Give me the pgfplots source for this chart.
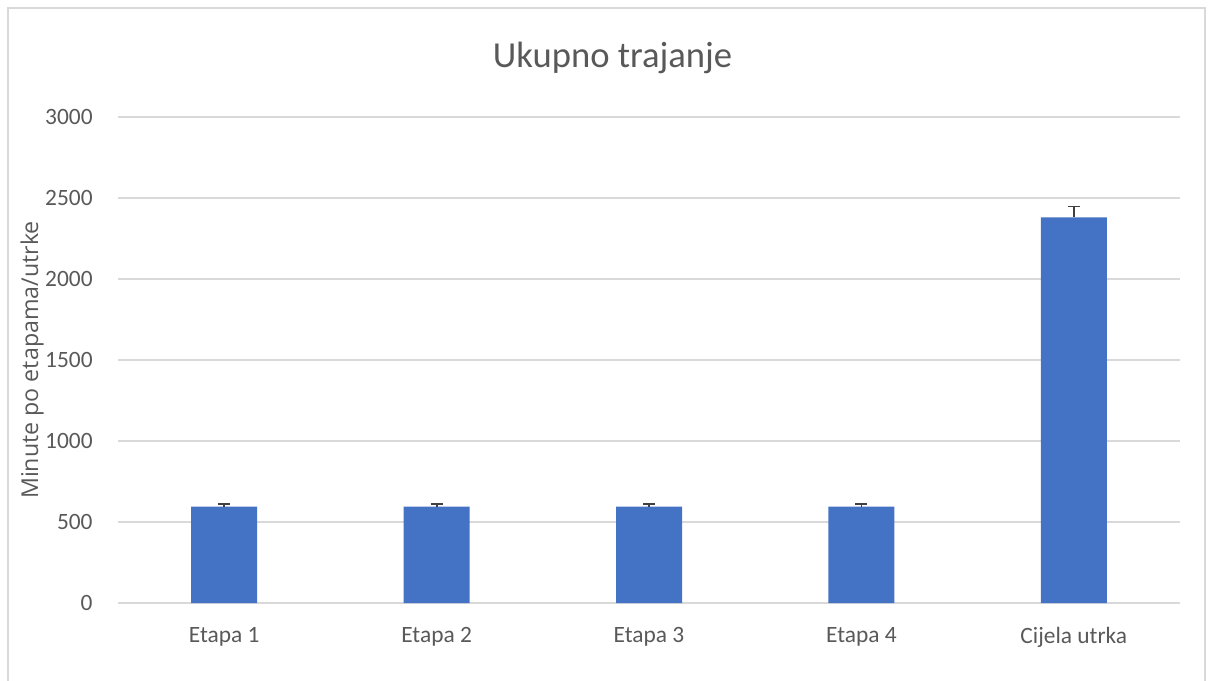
\documentclass[border=0pt]{standalone}
\usepackage{pgfplots}
\pgfplotsset{compat=1.18}
\usepackage{fontspec}
\setmainfont{Carlito}
\newfontfamily\labfont{Open Sans}
\definecolor{barblue}{HTML}{4472C4}
\definecolor{gridgray}{HTML}{D9D9D9}
\definecolor{txtgray}{HTML}{595959}
\definecolor{errgray}{HTML}{404040}
\begin{document}
\begin{tikzpicture}[x=1pt,y=1pt]
\path[use as bounding box] (0,0) rectangle (606.5,340);
\draw[gridgray, line width=0.7pt] (4,-5) -- (4,336) -- (602.5,336) -- (602.5,-5);
\begin{axis}[
  at={(59pt,38.5pt)}, anchor=south west,
  scale only axis, width=531pt, height=243pt,
  ymin=0, ymax=3000, ytick={0,500,...,3000},
  xmin=-0.5, xmax=4.5, xtick={0,...,4},
  xticklabels={Etapa 1,Etapa 2,Etapa 3,Etapa 4,Cijela utrka},
  axis line style={draw=none},
  ymajorgrids, grid style={gridgray, line width=0.75pt},
  major tick length=0pt,
  tick label style={font=\fontsize{11.7}{14}\selectfont, text=txtgray},
  /pgf/number format/assume math mode=true,
  /pgf/number format/set thousands separator={},
  yticklabel style={anchor=east, inner sep=0pt, xshift=-12.5pt},
  xticklabel style={anchor=center, inner sep=0pt, yshift=-17pt},
  ybar, bar width=33pt,
]
\addplot[fill=barblue, draw=none,
  error bars/.cd, y dir=plus, y explicit,
  error bar style={line width=0.9pt, color=errgray},
  error mark options={rotate=90, mark size=3pt, line width=0.9pt, color=errgray}]
  table[x=x, y=y, y error=e]{
x y e
0 595 15
1 595 15
2 595 15
3 595 15
4 2380 68
};
\end{axis}
\node[text=txtgray, font=\fontsize{18.3}{22}\selectfont] at (306.25,311) {Ukupno trajanje};
\node[text=txtgray, rotate=90, font=\labfont\fontsize{11.6}{14}\selectfont] at (16,160) {Minute po etapama/utrke};
\end{tikzpicture}
\end{document}
